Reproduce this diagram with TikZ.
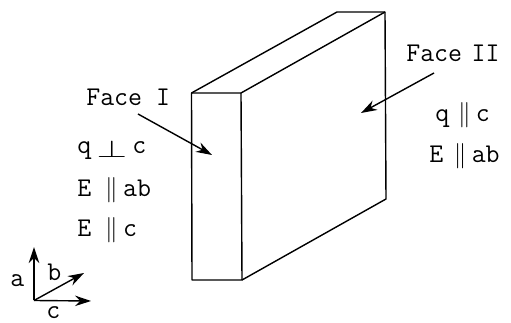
\documentclass[tikz,border=0pt]{standalone}
\usepackage{amsmath,amssymb}
\usepackage{graphicx}
\usetikzlibrary{arrows.meta}

\begin{document}
\begin{tikzpicture}[
  x=0.02cm,y=-0.02cm,
  >={Stealth[length=0.32cm,width=0.21cm]},
  every node/.style={font=\fontsize{15.4}{17}\selectfont\ttfamily,inner sep=0pt,anchor=base west},
  edge/.style={line width=0.8pt,line join=round},
  axis/.style={->,line width=0.8pt},
  pointer/.style={->,line width=0.8pt}
]
\useasboundingbox (0,0) rectangle (511,323);

%% Slab corners
\coordinate (fTL) at (191.5,93);
\coordinate (fTR) at (241,93);
\coordinate (fBL) at (192,280);
\coordinate (fBR) at (242,280);
\coordinate (bTL) at (337,12);
\coordinate (bTR) at (385,12);
\coordinate (bBR) at (386,199);

%% Slab
\draw[edge] (fTL) -- (fTR) -- (fBR) -- (fBL) -- cycle;
\draw[edge] (fTL) -- (bTL) -- (bTR) -- (bBR) -- (fBR);
\draw[edge] (fTR) -- (bTR);

%% Labels, left
\node (faceI) at (86,106) {Face I};
\node (lperp) at (77,154) {q\hspace{3pt}\raisebox{-2pt}{\resizebox{0.61cm}{0.34cm}{$\perp$}}\hspace{3pt}c};
\node (lEab) at (77,197) {E $\parallel$\hspace{3pt}ab};
\node (lEc) at (77,237) {E $\parallel$\hspace{3pt}c};

%% Labels, right
\node (faceII) at (406,62) {Face\hspace{-2.5pt} II};
\node (rqc) at (435,122) {q\hspace{5pt}$\parallel$\hspace{3pt}c};
\node (rEab) at (429,163) {E\hspace{6pt}$\parallel$\hspace{3pt}ab};

%% Pointers
\coordinate (pI) at (212,155);
\coordinate (pII) at (361,113);
\coordinate (sI) at (138,114);
\coordinate (sII) at (434,73);
\draw[pointer] (sI) -- (pI);
\draw[pointer] (sII) -- (pII);

%% Axes
\coordinate (o) at (34,300.5);
\coordinate (ta) at (34,247);
\coordinate (tb) at (84,273);
\coordinate (tc) at (91,301);
\draw[axis] (o) -- (ta);
\draw[axis] (o) -- (tb);
\draw[axis] (o) -- (tc);
\node (la) at (10,287) {a};
\node (lb) at (47,281) {b};
\node (lc) at (46,318.5) {c};

\end{tikzpicture}
\end{document}
